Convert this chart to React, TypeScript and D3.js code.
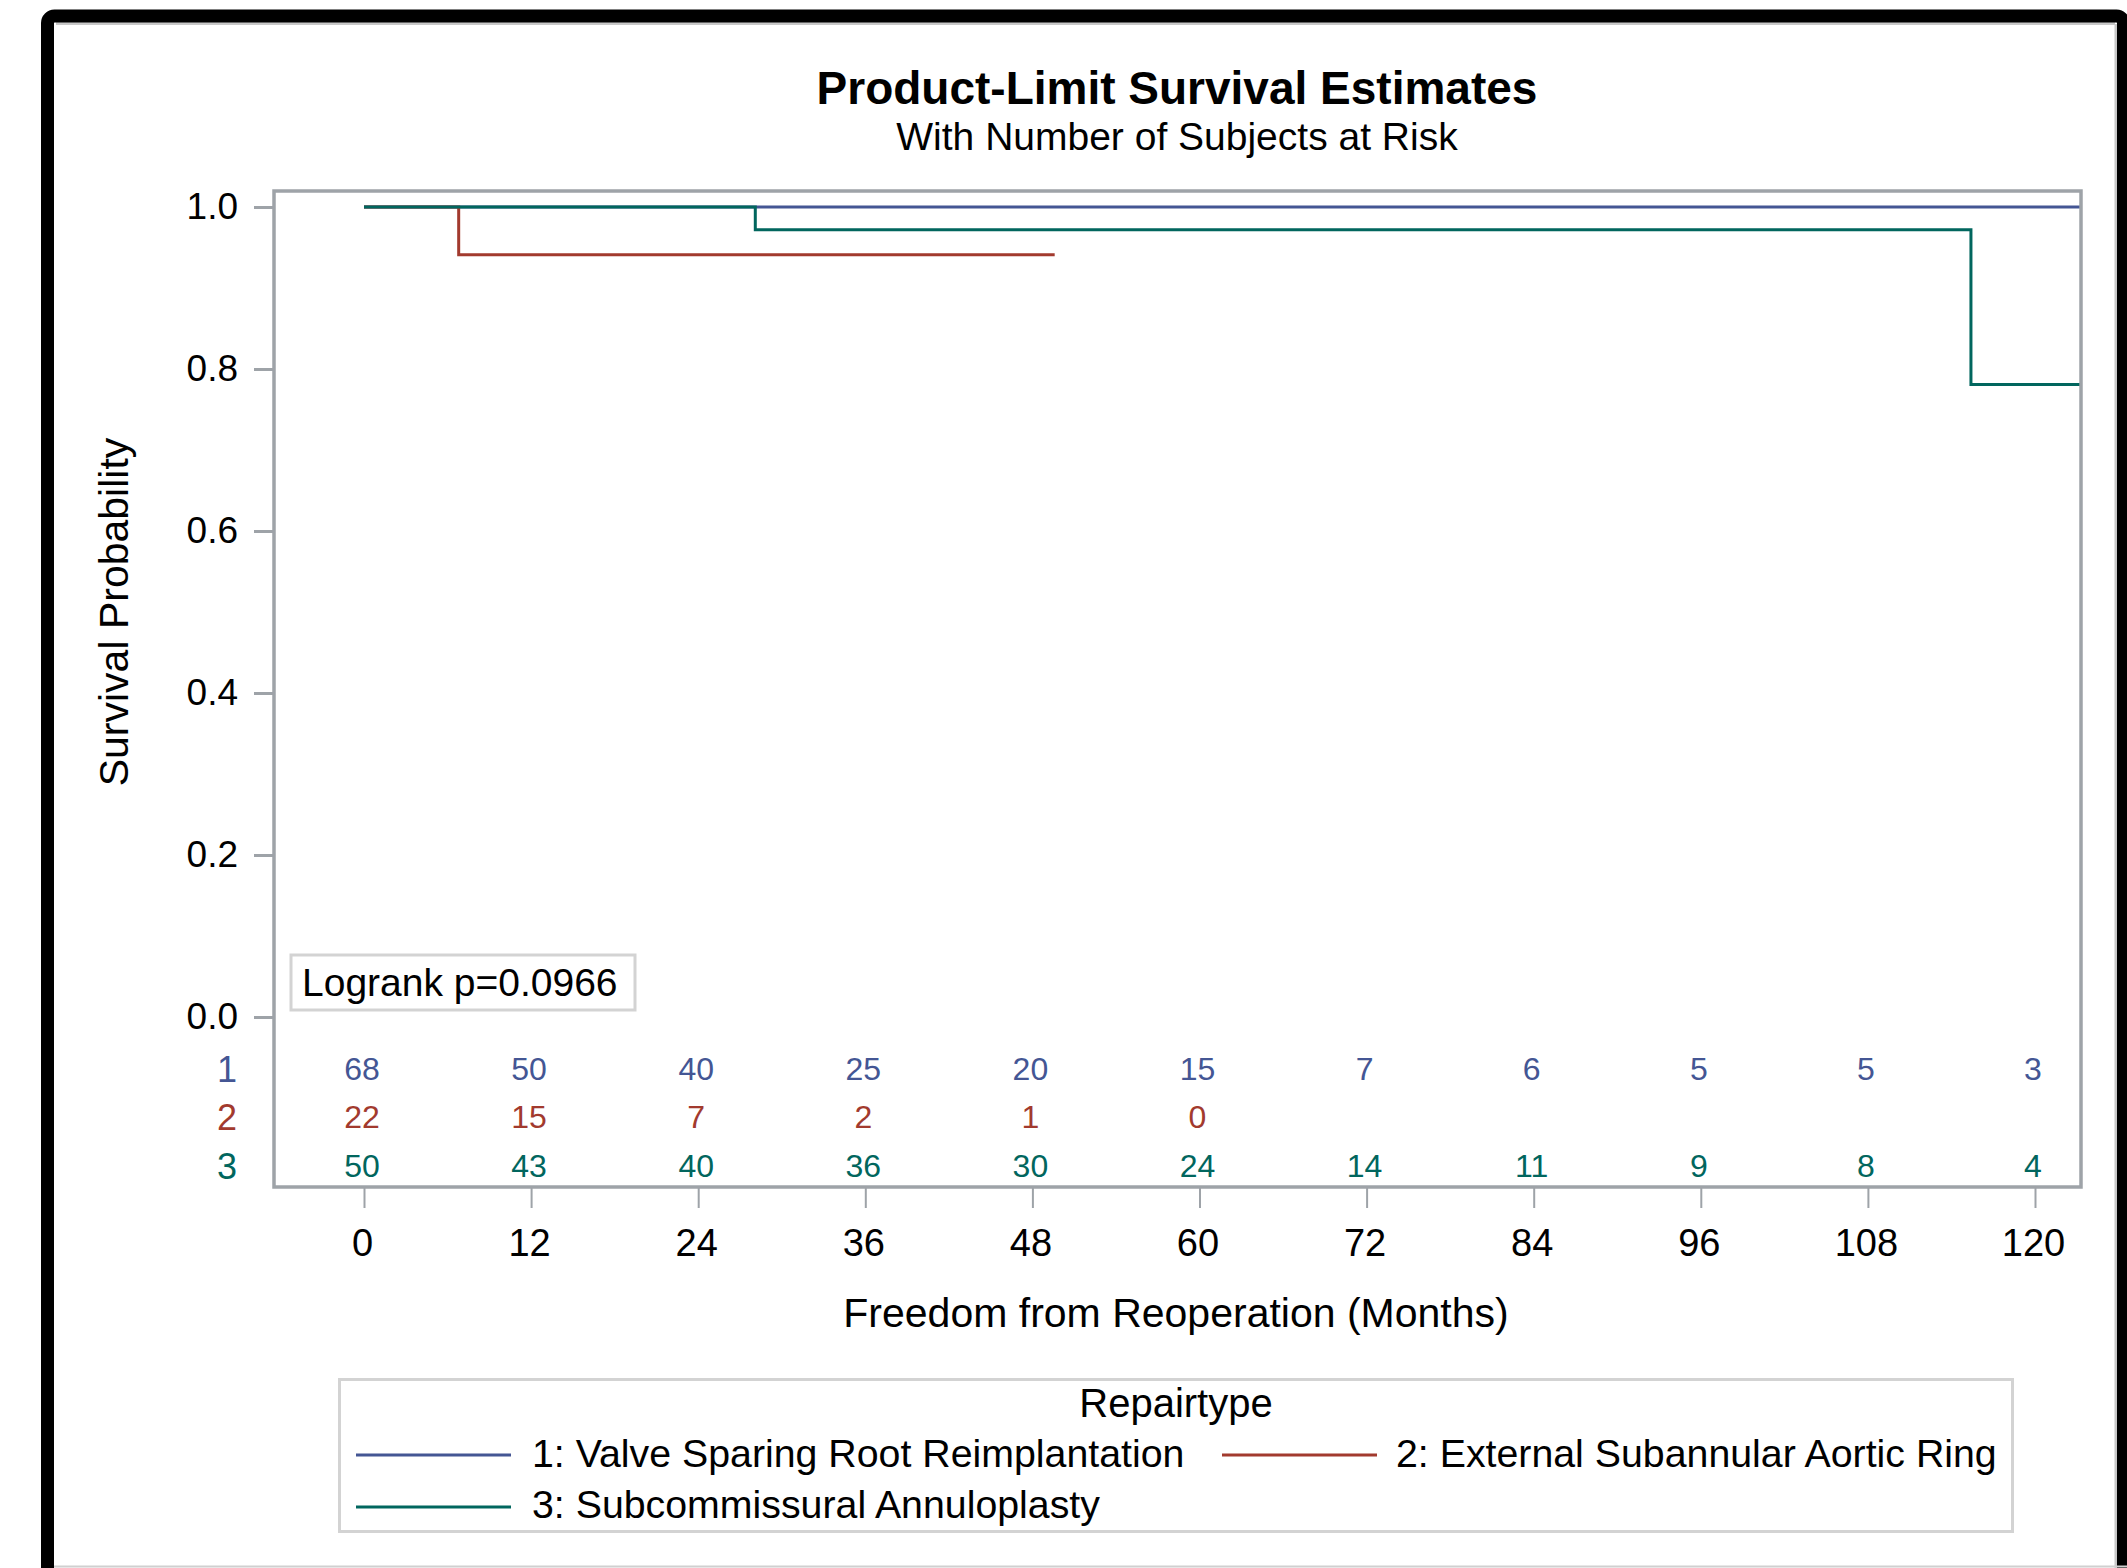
import React, { useRef, useEffect } from 'react';
import * as d3 from 'd3';

// tick labels / at-risk time points (months)
const months = [0, 12, 24, 36, 48, 60, 72, 84, 96, 108, 120];
const yTicks = [0, 0.2, 0.4, 0.6, 0.8, 1.0];

// number of subjects at risk per group
const atRisk1 = [68, 50, 40, 25, 20, 15, 7, 6, 5, 5, 3];
const atRisk2 = [22, 15, 7, 2, 1, 0];
const atRisk3 = [50, 43, 40, 36, 30, 24, 14, 11, 9, 8, 4];

// product-limit step curves (time, survival)
const timesG1 = [0, 123.3];
const survG1 = [1.0, 1.0];
const timesG2 = [0, 6.8, 49.6];
const survG2 = [1.0, 0.941, 0.941];
const timesG3 = [0, 28.1, 115.4, 123.3];
const survG3 = [1.0, 0.972, 0.781, 0.781];

const groupLabels = ['1', '2', '3'];
const legendLabels = [
  '1: Valve Sparing Root Reimplantation',
  '2: External Subannular Aortic Ring',
  '3: Subcommissural Annuloplasty',
];
const colors = ['#445694', '#A23A2E', '#01665E'];

const FONT = '"Liberation Sans", Arial, sans-serif';

function App() {
  const chartRef = useRef<SVGSVGElement | null>(null);

  useEffect(() => {
    drawChart();
  }, []);

  const drawChart = () => {
    const W = 2127;
    const H = 1568;
    const frame = { left: 274, top: 191, right: 2081, bottom: 1187 };
    const axisGrey = '#9EA3A8';

    const root = d3.select(chartRef.current);
    root.selectAll('*').remove();
    const svg = root.attr('width', W).attr('height', H);

    svg.append('rect').attr('width', W).attr('height', H).attr('fill', 'white');

    // outer black picture frame
    svg.append('path')
      .attr('d', `M2115,23.5 H56 M2116,24 V${H}`)
      .attr('stroke', '#c8c8c8')
      .attr('stroke-width', 3)
      .attr('fill', 'none');
    svg.append('rect')
      .attr('x', 47.5).attr('y', 16)
      .attr('width', 2076).attr('height', 1620)
      .attr('rx', 7)
      .attr('fill', 'none')
      .attr('stroke', 'black')
      .attr('stroke-width', 13);
    svg.append('line')
      .attr('x1', 54).attr('x2', W).attr('y1', 1566.5).attr('y2', 1566.5)
      .attr('stroke', '#d0d0d0').attr('stroke-width', 2);

    const xScale = d3.scaleLinear().domain([0, 120]).range([364, 2035]);
    const yScale = d3.scaleLinear().domain([0, 1]).range([1017, 207]);

    // titles
    svg.append('text')
      .attr('x', 1177).attr('y', 104)
      .attr('text-anchor', 'middle')
      .attr('font-family', FONT).attr('font-weight', 'bold').attr('font-size', 46)
      .text('Product-Limit Survival Estimates');
    svg.append('text')
      .attr('x', 1177).attr('y', 150)
      .attr('text-anchor', 'middle')
      .attr('font-family', FONT).attr('font-size', 39)
      .text('With Number of Subjects at Risk');

    // x axis
    const xAxis = svg.append('g')
      .attr('transform', `translate(0,${frame.bottom + 1})`)
      .call(d3.axisBottom(xScale).tickValues(months).tickSize(20).tickFormat(d3.format('d')));
    xAxis.select('.domain').remove();
    xAxis.selectAll('line').attr('stroke', axisGrey).attr('stroke-width', 2);
    xAxis.selectAll('text')
      .attr('x', -2)
      .attr('y', 68).attr('dy', 0)
      .attr('fill', 'black')
      .attr('font-family', FONT).attr('font-size', 38);

    // y axis
    const yAxis = svg.append('g')
      .attr('transform', `translate(${frame.left - 1},0)`)
      .call(d3.axisLeft(yScale).tickValues(yTicks).tickSize(19).tickFormat(d3.format('.1f')));
    yAxis.select('.domain').remove();
    yAxis.selectAll('line').attr('stroke', axisGrey).attr('stroke-width', 3);
    yAxis.selectAll('text')
      .attr('x', -35).attr('dy', '0.32em')
      .attr('fill', 'black')
      .attr('font-family', FONT).attr('font-size', 37);

    svg.append('text')
      .attr('transform', `translate(128,${yScale(0.5)}) rotate(-90)`)
      .attr('text-anchor', 'middle')
      .attr('font-family', FONT).attr('font-size', 41)
      .text('Survival Probability');

    svg.append('text')
      .attr('x', 1176).attr('y', 1327)
      .attr('text-anchor', 'middle')
      .attr('font-family', FONT).attr('font-size', 41)
      .text('Freedom from Reoperation (Months)');

    // survival curves
    const line = d3.line<[number, number]>()
      .x(d => xScale(d[0]))
      .y(d => yScale(d[1]))
      .curve(d3.curveStepAfter);
    const curves = [
      d3.zip(timesG1, survG1),
      d3.zip(timesG2, survG2),
      d3.zip(timesG3, survG3),
    ];
    curves.forEach((pts, i) => {
      svg.append('path')
        .datum(pts as [number, number][])
        .attr('fill', 'none')
        .attr('stroke', colors[i])
        .attr('stroke-width', 3)
        .attr('d', line);
    });

    // logrank inset
    svg.append('rect')
      .attr('x', 291).attr('y', 955)
      .attr('width', 344).attr('height', 55)
      .attr('fill', 'white')
      .attr('stroke', '#d3d3d3').attr('stroke-width', 3);
    svg.append('text')
      .attr('x', 302).attr('y', 996)
      .attr('font-family', FONT).attr('font-size', 39)
      .text('Logrank p=0.0966');

    // at-risk table
    const rowY = [1080, 1128, 1177];
    [atRisk1, atRisk2, atRisk3].forEach((vals, i) => {
      svg.append('text')
        .attr('x', 227).attr('y', rowY[i] + 2)
        .attr('text-anchor', 'middle')
        .attr('fill', colors[i])
        .attr('font-family', FONT).attr('font-size', 36)
        .text(groupLabels[i]);
      svg.selectAll(`.risk-${i}`)
        .data(vals)
        .enter().append('text')
        .attr('class', `risk-${i}`)
        .attr('x', (d, j) => xScale(months[j]) - 2)
        .attr('y', rowY[i])
        .attr('text-anchor', 'middle')
        .attr('fill', colors[i])
        .attr('font-family', FONT).attr('font-size', 32)
        .text(d => d);
    });

    // plot frame
    svg.append('rect')
      .attr('x', frame.left).attr('y', frame.top)
      .attr('width', frame.right - frame.left)
      .attr('height', frame.bottom - frame.top)
      .attr('fill', 'none')
      .attr('stroke', axisGrey)
      .attr('stroke-width', 3.5);

    // legend
    const legend = svg.append('g');
    legend.append('rect')
      .attr('x', 339.5).attr('y', 1379.5)
      .attr('width', 1673).attr('height', 152)
      .attr('fill', 'white')
      .attr('stroke', '#d3d3d3').attr('stroke-width', 3);
    legend.append('text')
      .attr('x', 1176).attr('y', 1417)
      .attr('text-anchor', 'middle')
      .attr('font-family', FONT).attr('font-size', 40)
      .text('Repairtype');

    const legendItems = [
      { lx: 356, ly: 1455, tx: 532, ty: 1467 },
      { lx: 1222, ly: 1455, tx: 1396, ty: 1467 },
      { lx: 356, ly: 1507, tx: 532, ty: 1518 },
    ];
    legendItems.forEach((p, i) => {
      legend.append('line')
        .attr('x1', p.lx).attr('x2', p.lx + 155)
        .attr('y1', p.ly).attr('y2', p.ly)
        .attr('stroke', colors[i]).attr('stroke-width', 3);
      legend.append('text')
        .attr('x', p.tx).attr('y', p.ty)
        .attr('font-family', FONT).attr('font-size', 39.3)
        .text(legendLabels[i]);
    });
  };

  return (
    <svg ref={chartRef} style={{ position: 'absolute', left: 0, top: 0, display: 'block' }}></svg>
  );
}

export default App;
